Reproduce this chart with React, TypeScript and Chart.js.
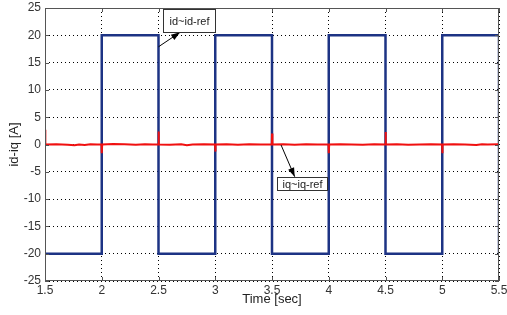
import React, { useEffect, useRef } from "react";
import { Chart, registerables } from "chart.js";

Chart.register(...registerables);

// ---- data ----
const switchTimes = [1.5, 2, 2.5, 3, 3.5, 4, 4.5, 5, 5.5];
const idLevels = [-20, 20, -20, 20, -20, 20, -20, 20];
const idEndLevel = -20;

const iqTimes = [
  1.5, 1.501, 1.505, 1.6, 1.7, 1.76, 1.8, 1.85, 1.9, 1.96, 1.998,
  2.0, 2.004, 2.1, 2.2, 2.3, 2.38, 2.45, 2.498,
  2.5, 2.504, 2.6, 2.7, 2.75, 2.8, 2.9, 2.998,
  3.0, 3.004, 3.1, 3.2, 3.3, 3.4, 3.498,
  3.5, 3.504, 3.6, 3.7, 3.8, 3.9, 3.998,
  4.0, 4.004, 4.1, 4.2, 4.3, 4.4, 4.498,
  4.5, 4.504, 4.6, 4.7, 4.8, 4.9, 4.998,
  5.0, 5.004, 5.1, 5.2, 5.3, 5.35, 5.4, 5.5,
];
const iqValues = [
  2.7, 0.05, 0.0, 0.05, -0.05, -0.15, 0.0, -0.1, 0.05, 0.0, 0.0,
  -1.6, 0.0, 0.1, 0.05, -0.05, 0.05, 0.0, 0.0,
  2.4, 0.0, -0.05, 0.05, -0.15, 0.0, 0.05, 0.0,
  -1.3, 0.0, 0.05, -0.05, 0.05, 0.0, 0.0,
  2.0, 0.0, 0.05, -0.05, 0.05, 0.0, 0.0,
  -1.6, 0.0, 0.05, 0.0, -0.05, 0.05, 0.0,
  2.3, 0.0, 0.05, -0.05, 0.0, 0.05, 0.0,
  -1.6, 0.0, 0.05, 0.0, -0.1, 0.05, 0.0, 0.05,
];

const xTickValues = [1.5, 2, 2.5, 3, 3.5, 4, 4.5, 5, 5.5];
const yTickValues = [-25, -20, -15, -10, -5, 0, 5, 10, 15, 20, 25];

const xTitle = "Time [sec]";
const yTitle = "id-iq [A]";
const idLabel = "id~id-ref";
const iqLabel = "iq~iq-ref";

// ---- build step series ----
function buildSteps(withEnd: boolean) {
  const pts: { x: number; y: number }[] = [];
  for (let i = 0; i < idLevels.length; i++) {
    pts.push({ x: switchTimes[i], y: idLevels[i] });
    pts.push({ x: switchTimes[i + 1], y: idLevels[i] });
  }
  if (withEnd) pts.push({ x: switchTimes[switchTimes.length - 1], y: idEndLevel });
  return pts;
}

const FONT = "'Liberation Sans', Arial, sans-serif";

function drawArrow(ctx: CanvasRenderingContext2D, x1: number, y1: number, x2: number, y2: number) {
  ctx.beginPath();
  ctx.moveTo(x1, y1);
  ctx.lineTo(x2, y2);
  ctx.strokeStyle = "#000";
  ctx.lineWidth = 1;
  ctx.stroke();
  const ang = Math.atan2(y2 - y1, x2 - x1);
  const len = 9;
  const w = 3.2;
  const bx = x2 - len * Math.cos(ang);
  const by = y2 - len * Math.sin(ang);
  ctx.beginPath();
  ctx.moveTo(x2, y2);
  ctx.lineTo(bx + w * Math.sin(ang), by - w * Math.cos(ang));
  ctx.lineTo(bx - w * Math.sin(ang), by + w * Math.cos(ang));
  ctx.closePath();
  ctx.fillStyle = "#000";
  ctx.fill();
}

function drawBox(ctx: CanvasRenderingContext2D, x1: number, y1: number, x2: number, y2: number, text: string) {
  const l = Math.round(x1) + 0.5, t = Math.round(y1) + 0.5;
  const w = Math.round(x2 - x1), h = Math.round(y2 - y1);
  ctx.fillStyle = "#fff";
  ctx.fillRect(l, t, w, h);
  ctx.strokeStyle = "#333";
  ctx.lineWidth = 1;
  ctx.strokeRect(l, t, w, h);
  ctx.fillStyle = "#222";
  ctx.font = `11px ${FONT}`;
  ctx.textAlign = "center";
  ctx.textBaseline = "middle";
  ctx.fillText(text, l + w / 2, t + h / 2 + 0.5);
}

const framePlugin = {
  id: "matlabFrame",
  afterDatasetsDraw(chart: any) {
    const { ctx, chartArea } = chart;
    const { left, right, top, bottom } = chartArea;
    const xs = chart.scales.x;
    const ys = chart.scales.y;
    ctx.save();
    // frame
    ctx.strokeStyle = "#555";
    ctx.lineWidth = 1;
    ctx.setLineDash([]);
    ctx.strokeRect(left + 0.5, top + 0.5, right - left - 1, bottom - top - 1);
    // inward ticks
    ctx.beginPath();
    for (const v of xTickValues) {
      const px = Math.round(xs.getPixelForValue(v)) + 0.5;
      ctx.moveTo(px, bottom); ctx.lineTo(px, bottom - 4);
      ctx.moveTo(px, top); ctx.lineTo(px, top + 4);
    }
    for (const v of yTickValues) {
      const py = Math.round(ys.getPixelForValue(v)) + 0.5;
      ctx.moveTo(left, py); ctx.lineTo(left + 4, py);
      ctx.moveTo(right, py); ctx.lineTo(right - 4, py);
    }
    ctx.stroke();

    // annotations (data coordinates)
    const P = (x: number, y: number) => [xs.getPixelForValue(x), ys.getPixelForValue(y)];
    const [a1x, a1y] = P(2.5, 17.9);
    const [h1x, h1y] = P(2.69, 20.55);
    drawArrow(ctx, a1x, a1y, h1x, h1y);
    const [b1l, b1t] = P(2.54, 24.8);
    const [b1r, b1b] = P(3.0, 20.55);
    drawBox(ctx, b1l, b1t, b1r, b1b, idLabel);

    const [a2x, a2y] = P(3.58, -0.1);
    const [h2x, h2y] = P(3.70, -5.9);
    drawArrow(ctx, a2x, a2y, h2x, h2y);
    const [b2l, b2t] = P(3.54, -5.9);
    const [b2r, b2b] = P(3.98, -8.35);
    drawBox(ctx, b2l, b2t, b2r, b2b, iqLabel);

    // axis titles
    ctx.fillStyle = "#222";
    ctx.font = `13px ${FONT}`;
    ctx.textAlign = "center";
    ctx.textBaseline = "middle";
    ctx.fillText(xTitle, (left + right) / 2, 299.5);
    ctx.save();
    ctx.translate(14, (top + bottom) / 2);
    ctx.rotate(-Math.PI / 2);
    ctx.fillText(yTitle, 0, 0);
    ctx.restore();
    ctx.restore();
  },
};

export default function App() {
  const ref = useRef<HTMLCanvasElement | null>(null);
  useEffect(() => {
    if (!ref.current) return;
    const iqPts = iqTimes.map((t, i) => ({ x: t, y: iqValues[i] }));
    const chart = new Chart(ref.current, {
      type: "line",
      data: {
        datasets: [
          {
            label: "iq",
            data: iqPts,
            borderColor: "#f01010",
            borderWidth: 2,
            pointRadius: 0,
            order: 0,
          },
          {
            label: "id",
            data: buildSteps(true),
            borderColor: "#1d3384",
            borderWidth: 2.5,
            pointRadius: 0,
            order: 1,
          },
          {
            label: "id-ref",
            data: buildSteps(false),
            borderColor: "#1f7a45",
            borderWidth: 1,
            pointRadius: 0,
            order: 2,
          },
        ],
      },
      options: {
        animation: false,
        responsive: false,
        parsing: false,
        normalized: true,
        layout: { padding: { top: 8, right: 8, left: 0, bottom: 0 } },
        plugins: { legend: { display: false }, tooltip: { enabled: false } },
        elements: { line: { tension: 0 } },
        scales: {
          x: {
            type: "linear",
            min: xTickValues[0],
            max: xTickValues[xTickValues.length - 1],
            afterBuildTicks: (s: any) => { s.ticks = xTickValues.map((v) => ({ value: v })); },
            afterFit: (s: any) => { s.height = 34; s.paddingLeft = 0; s.paddingRight = 0; },
            grid: { color: "#000", lineWidth: 1, drawTicks: false },
            border: { display: false, dash: [1, 3] },
            ticks: {
              font: { family: FONT, size: 12 },
              color: "#333",
              padding: 2,
              maxRotation: 0,
              autoSkip: false,
              callback: (v: any) => String(v),
            },
          },
          y: {
            type: "linear",
            min: yTickValues[0],
            max: yTickValues[yTickValues.length - 1],
            afterBuildTicks: (s: any) => { s.ticks = yTickValues.map((v) => ({ value: v })); },
            afterFit: (s: any) => { s.width = 45; s.paddingTop = 0; s.paddingBottom = 0; },
            grid: { color: "#000", lineWidth: 1, drawTicks: false },
            border: { display: false, dash: [1, 3] },
            ticks: {
              font: { family: FONT, size: 12 },
              color: "#333",
              padding: 4,
              autoSkip: false,
              callback: (v: any) => String(v),
            },
          },
        },
      },
      plugins: [framePlugin],
    } as any);
    return () => chart.destroy();
  }, []);
  return (
    <div style={{ position: "absolute", left: 0, top: 0, width: 507, height: 315, background: "#fff" }}>
      <canvas ref={ref} width={507} height={315} style={{ display: "block" }} />
    </div>
  );
}
